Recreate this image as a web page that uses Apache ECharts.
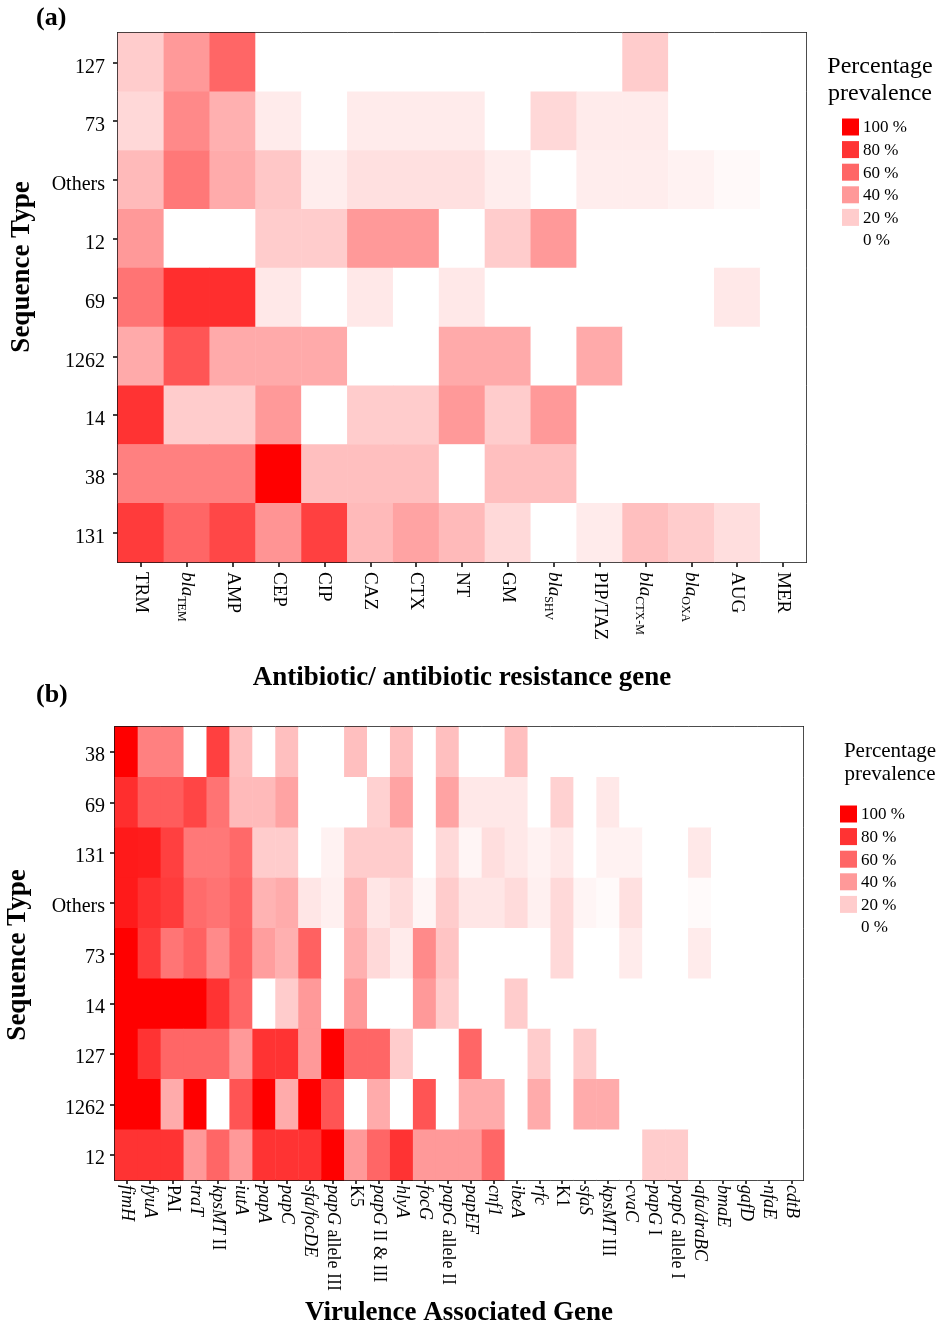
<!DOCTYPE html>
<html>
<head>
<meta charset="utf-8">
<title>Sequence type heatmaps</title>
<script src="https://cdn.jsdelivr.net/npm/echarts@6/dist/echarts.min.js"></script>
<style>
    html, body { margin: 0; padding: 0; background: #fff; }
    #main { width: 941px; height: 1328px; }
</style>
</head>
<body>
<div id="main"></div>
<script>
// ---- (a) antibiotic / resistance gene, % of isolates per sequence type
var abCols = ['TRM', 'blaTEM', 'AMP', 'CEP', 'CIP', 'CAZ', 'CTX', 'NT', 'GM',
    'blaSHV', 'PIP/TAZ', 'blaCTX-M', 'blaOXA', 'AUG', 'MER'];
var stRowsA = ['127', '73', 'Others', '12', '69', '1262', '14', '38', '131']; // top -> bottom

var a127    = [20, 40, 60, 0, 0, 0, 0, 0, 0, 0, 0, 20, 0, 0, 0];
var a73     = [15.4, 46.2, 30.8, 7.7, 0, 7.7, 7.7, 7.7, 0, 15.4, 7.7, 7.7, 0, 0, 0];
var aOthers = [27, 53, 33, 22, 7, 12, 12, 12, 7, 0, 7, 7, 5, 2.5, 0];
var a12     = [40, 0, 0, 20, 20, 40, 40, 0, 20, 40, 0, 0, 0, 0, 0];
var a69     = [54.5, 81.8, 81.8, 9.1, 0, 9.1, 0, 9.1, 0, 0, 0, 0, 0, 9.1, 0];
var a1262   = [33.3, 66.7, 33.3, 33.3, 33.3, 0, 0, 33.3, 33.3, 0, 33.3, 0, 0, 0, 0];
var a14     = [80, 20, 20, 40, 0, 20, 20, 40, 20, 40, 0, 0, 0, 0, 0];
var a38     = [50, 50, 50, 100, 25, 25, 25, 0, 25, 25, 0, 0, 0, 0, 0];
var a131    = [77, 60, 72, 42, 75, 27, 36, 27, 15, 0, 8, 25, 20, 13, 0];

// ---- (b) virulence associated genes
var genes = ['fimH', 'fyuA', 'PAI', 'traT', 'kpsMT II', 'iutA', 'papA', 'papC', 'sfa/focDE',
    'papG allele III', 'K5', 'papG II & III', 'hlyA', 'focG', 'papG allele II', 'papEF', 'cnf1',
    'ibeA', 'rfc', 'K1', 'sfaS', 'kpsMT III', 'cvaC', 'papG I', 'papG allele I', 'afa/draBC',
    'bmaE', 'gafD', 'nfaE', 'cdtB'];
var stRowsB = ['38', '69', '131', 'Others', '73', '14', '127', '1262', '12']; // top -> bottom

var b38     = [100, 50, 50, 0, 75, 25, 0, 25, 0, 0, 25, 0, 25, 0, 25, 0, 0, 25, 0, 0, 0, 0, 0, 0, 0, 0, 0, 0, 0, 0];
var b69     = [82, 64, 64, 73, 55, 27, 27, 36, 0, 0, 0, 18, 36, 0, 36, 9, 9, 9, 0, 18, 0, 9, 0, 0, 0, 0, 0, 0, 0, 0];
var b131    = [90, 89, 75, 53, 53, 59, 20, 20, 0, 5, 20, 20, 20, 0, 15, 4, 13, 9, 5, 9, 0, 5, 5, 0, 0, 9, 0, 0, 0, 0];
var bOthers = [90, 81, 77, 58, 55, 61, 30, 33, 10, 6, 28, 10, 14, 4, 20, 10, 10, 14, 6, 15, 4, 2, 12, 0, 0, 2, 0, 0, 0, 0];
var b73     = [100, 77, 54, 62, 46, 62, 38, 31, 62, 0, 31, 15, 8, 46, 23, 0, 0, 0, 0, 15, 0, 0, 8, 0, 0, 8, 0, 0, 0, 0];
var b14     = [100, 100, 100, 100, 80, 60, 0, 20, 40, 0, 40, 0, 0, 40, 20, 0, 0, 20, 0, 0, 0, 0, 0, 0, 0, 0, 0, 0, 0, 0];
var b127    = [100, 80, 60, 60, 60, 40, 80, 80, 40, 100, 60, 60, 20, 0, 0, 60, 0, 0, 20, 0, 20, 0, 0, 0, 0, 0, 0, 0, 0, 0];
var b1262   = [100, 100, 33, 100, 0, 67, 100, 33, 100, 67, 0, 33, 0, 67, 0, 33, 33, 0, 33, 0, 33, 33, 0, 0, 0, 0, 0, 0, 0, 0];
var b12     = [80, 80, 80, 40, 60, 40, 80, 80, 80, 100, 40, 60, 80, 40, 40, 40, 60, 0, 0, 0, 0, 0, 0, 20, 20, 0, 0, 0, 0, 0];

var legendSteps = [100, 80, 60, 40, 20, 0];

var serif = '"Liberation Serif", "Times New Roman", serif';
var scale = ['#ffffff', '#ff0000'];

function cells(rows) {
    var out = [];
    rows.forEach(function (row, i) {
        row.forEach(function (v, j) { out.push([j, i, v]); });
    });
    return out;
}

// bla genes: italic "bla" + subscript
function abLabel(name) {
    if (name.indexOf('bla') === 0) return '{it|bla}{sub|' + name.slice(3) + '}';
    return name;
}

// gene names italic, allele / roman numerals upright
var uprightGenes = ['PAI', 'K5', 'K1'];
function geneLabel(name) {
    if (uprightGenes.indexOf(name) >= 0) return name;
    var k = name.indexOf(' ');
    if (k < 0) return '{it|' + name + '}';
    return '{it|' + name.slice(0, k) + '}' + name.slice(k);
}

var frame = { show: true, lineStyle: { color: '#111', width: 2 } };

function boxAxis(gridIndex, cats, pos, inverse) {
    return {
        type: 'category', gridIndex: gridIndex, data: cats, position: pos, inverse: !!inverse,
        axisLine: frame, axisTick: { show: false }, axisLabel: { show: false },
        splitLine: { show: false }
    };
}

var chart = echarts.init(document.getElementById('main'));

var option = {
    backgroundColor: '#fff',
    animation: false,
    grid: [
        { left: 118, top: 33, width: 688, height: 529 },
        { left: 115, top: 727, width: 688, height: 454 }
    ],
    xAxis: [
        {
            type: 'category', gridIndex: 0, data: abCols, position: 'bottom',
            axisLine: frame,
            axisTick: { show: true, interval: 0, alignWithLabel: true, length: 5, lineStyle: { color: '#000', width: 1.5 } },
            axisLabel: {
                interval: 0, rotate: -90, margin: 10, color: '#000', fontFamily: serif, fontSize: 19,
                formatter: abLabel,
                rich: {
                    it: { fontFamily: serif, fontSize: 19, fontStyle: 'italic', color: '#000', lineHeight: 24 },
                    sub: { fontFamily: serif, fontSize: 12, color: '#000', lineHeight: 12, verticalAlign: 'bottom' }
                }
            },
            name: 'Antibiotic/ antibiotic resistance gene', nameLocation: 'middle', nameGap: 103,
            nameTextStyle: { fontFamily: serif, fontSize: 27, fontWeight: 'bold', color: '#000' },
            splitLine: { show: false }
        },
        boxAxis(0, abCols, 'top'),
        {
            type: 'category', gridIndex: 1, data: genes, position: 'bottom',
            axisLine: frame,
            axisTick: { show: true, interval: 0, alignWithLabel: true, length: 4, lineStyle: { color: '#000', width: 1.5 } },
            axisLabel: {
                interval: 0, rotate: -90, margin: 5, color: '#000', fontFamily: serif, fontSize: 18,
                formatter: geneLabel,
                rich: {
                    it: { fontFamily: serif, fontSize: 18, fontStyle: 'italic', color: '#000' }
                }
            },
            name: 'Virulence Associated Gene', nameLocation: 'middle', nameGap: 120,
            nameTextStyle: { fontFamily: serif, fontSize: 27, fontWeight: 'bold', color: '#000' },
            splitLine: { show: false }
        },
        boxAxis(1, genes, 'top')
    ],
    yAxis: [
        {
            type: 'category', gridIndex: 0, data: stRowsA, inverse: true, position: 'left',
            axisLine: frame,
            axisTick: { show: true, alignWithLabel: true, length: 5, lineStyle: { color: '#000', width: 1.5 } },
            // labels sit a few px below the tick in the original
            axisLabel: { margin: 13, verticalAlign: 'top', lineHeight: 10, color: '#000', fontFamily: serif, fontSize: 20 },
            splitLine: { show: false }
        },
        boxAxis(0, stRowsA, 'right', true),
        {
            type: 'category', gridIndex: 1, data: stRowsB, inverse: true, position: 'left',
            axisLine: frame,
            axisTick: { show: true, alignWithLabel: true, length: 5, lineStyle: { color: '#000', width: 1.5 } },
            axisLabel: { margin: 10, verticalAlign: 'top', lineHeight: 8, color: '#000', fontFamily: serif, fontSize: 20 },
            splitLine: { show: false }
        },
        boxAxis(1, stRowsB, 'right', true)
    ],
    visualMap: {
        type: 'continuous', show: false, min: 0, max: 100, seriesIndex: [0, 1],
        inRange: { color: scale }
    },
    series: [
        {
            type: 'heatmap', xAxisIndex: 0, yAxisIndex: 0,
            data: cells([a127, a73, aOthers, a12, a69, a1262, a14, a38, a131]),
            emphasis: { disabled: true }
        },
        {
            type: 'heatmap', xAxisIndex: 2, yAxisIndex: 2,
            data: cells([b38, b69, b131, bOthers, b73, b14, b127, b1262, b12]),
            emphasis: { disabled: true }
        }
    ],
    graphic: []
};

// panel letters
option.graphic.push({ type: 'text', x: 36, y: 18, style: { text: '(a)', fontFamily: serif, fontSize: 26, fontWeight: 'bold', fill: '#000', verticalAlign: 'middle' } });
option.graphic.push({ type: 'text', x: 36, y: 695, style: { text: '(b)', fontFamily: serif, fontSize: 26, fontWeight: 'bold', fill: '#000', verticalAlign: 'middle' } });

// y axis titles (panel a title sits above the axis middle in the original)
[[22, 267], [18, 955]].forEach(function (p) {
    option.graphic.push({
        type: 'text', x: p[0], y: p[1], rotation: Math.PI / 2,
        style: { text: 'Sequence Type', fontFamily: serif, fontSize: 27, fontWeight: 'bold', fill: '#000', align: 'center', verticalAlign: 'middle' }
    });
});

// colour key next to each panel
function addKey(cx, titleY, titleSize, swX, firstY) {
    ['Percentage', 'prevalence'].forEach(function (t, i) {
        option.graphic.push({
            type: 'text', x: cx, y: titleY + i * titleSize * 1.12,
            style: { text: t, fontFamily: serif, fontSize: titleSize, fill: '#000', align: 'center', verticalAlign: 'middle' }
        });
    });
    legendSteps.forEach(function (v, i) {
        var y = firstY + i * 22.6;
        option.graphic.push({
            type: 'rect', x: swX, y: y - 8.5, shape: { width: 17, height: 17 },
            style: { fill: echarts.color.lerp(v / 100, scale) }
        });
        option.graphic.push({
            type: 'text', x: swX + 21, y: y + 1,
            style: { text: v + ' %', fontFamily: serif, fontSize: 17, fill: '#000', verticalAlign: 'middle' }
        });
    });
}
addKey(880, 67, 24, 842, 127);
addKey(890, 751, 21, 840, 814);

chart.setOption(option);
</script>
</body>
</html>
